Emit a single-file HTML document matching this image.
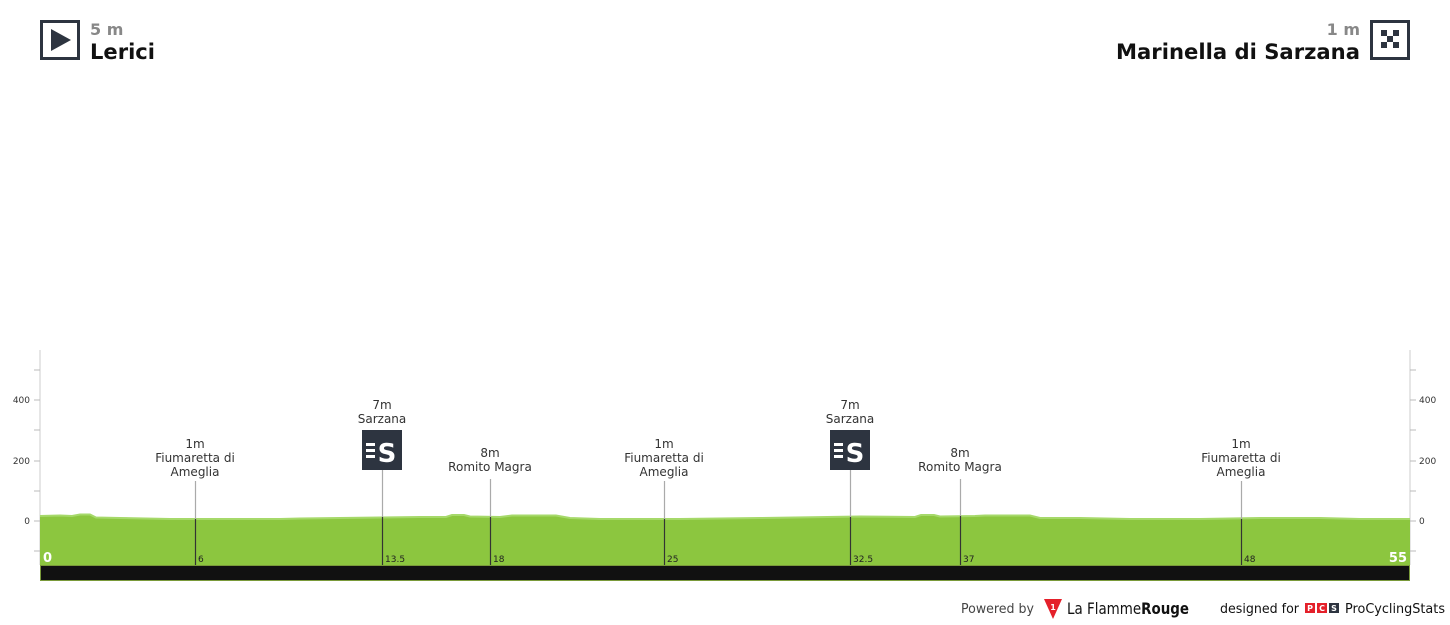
<!DOCTYPE html>
<html><head><meta charset="utf-8"><style>
html,body{margin:0;padding:0;background:#fff;width:1450px;height:625px;overflow:hidden}
svg{display:block}
text{font-family:"DejaVu Sans","Liberation Sans",sans-serif}
</style></head><body>
<svg width="1450" height="625" viewBox="0 0 1450 625" xmlns="http://www.w3.org/2000/svg">
<rect x="41.5" y="21.5" width="37" height="37" fill="#fff" stroke="#2d3440" stroke-width="3"/>
<polygon points="51,29 51,51 71,40" fill="#2d3440"/>
<text x="90" y="35" font-size="16" font-weight="bold" fill="#888">5 m</text>
<text x="90" y="59" font-size="21" font-weight="bold" fill="#111" textLength="65" lengthAdjust="spacingAndGlyphs">Lerici</text>
<text x="1360" y="35" font-size="16" font-weight="bold" fill="#888" text-anchor="end">1 m</text>
<text x="1360" y="59" font-size="21" font-weight="bold" fill="#111" text-anchor="end" textLength="244" lengthAdjust="spacingAndGlyphs">Marinella di Sarzana</text>
<rect x="1371.5" y="21.5" width="37" height="37" fill="#fff" stroke="#2d3440" stroke-width="3"/>
<g fill="#2d3440">
<rect x="1381" y="30" width="6" height="6"/><rect x="1393" y="30" width="6" height="6"/>
<rect x="1387" y="36" width="6" height="6"/>
<rect x="1381" y="42" width="6" height="6"/><rect x="1393" y="42" width="6" height="6"/>
</g>
<line x1="40" y1="350" x2="40" y2="565" stroke="#ccc" stroke-width="1"/>
<line x1="1410" y1="350" x2="1410" y2="565" stroke="#ccc" stroke-width="1"/>
<g stroke="#bbb" stroke-width="1">
<line x1="34" y1="370" x2="40" y2="370"/><line x1="34" y1="400" x2="40" y2="400"/><line x1="34" y1="430" x2="40" y2="430"/><line x1="34" y1="461" x2="40" y2="461"/><line x1="34" y1="491" x2="40" y2="491"/><line x1="34" y1="521" x2="40" y2="521"/><line x1="34" y1="551" x2="40" y2="551"/>
<line x1="1410" y1="370" x2="1416" y2="370"/><line x1="1410" y1="400" x2="1416" y2="400"/><line x1="1410" y1="430" x2="1416" y2="430"/><line x1="1410" y1="461" x2="1416" y2="461"/><line x1="1410" y1="491" x2="1416" y2="491"/><line x1="1410" y1="521" x2="1416" y2="521"/><line x1="1410" y1="551" x2="1416" y2="551"/>
</g>
<g font-size="9" fill="#333">
<text x="30" y="403" text-anchor="end">400</text><text x="30" y="464" text-anchor="end">200</text><text x="30" y="524" text-anchor="end">0</text>
<text x="1419" y="403">400</text><text x="1419" y="464">200</text><text x="1419" y="524">0</text>
</g>
<path d="M40,516 L60,515.5 L72,516 L80,514.5 L90,514.5 L96,517.5 L120,518 L170,519 L280,519 L300,518.5 L380,517.5 L420,517 L446,517 L452,515 L464,515 L470,516.5 L500,517 L512,515.5 L556,515.5 L570,518 L600,519 L680,519 L760,518 L860,516.5 L915,517 L921,515 L934,515 L940,516.5 L975,516 L985,515.5 L1030,515.5 L1040,518 L1080,518 L1130,519 L1200,519 L1260,518 L1320,518 L1360,519 L1410,519 L1410,565 L40,565 Z" fill="#8cc63f"/>
<path d="M40,516 L60,515.5 L72,516 L80,514.5 L90,514.5 L96,517.5 L120,518 L170,519 L280,519 L300,518.5 L380,517.5 L420,517 L446,517 L452,515 L464,515 L470,516.5 L500,517 L512,515.5 L556,515.5 L570,518 L600,519 L680,519 L760,518 L860,516.5 L915,517 L921,515 L934,515 L940,516.5 L975,516 L985,515.5 L1030,515.5 L1040,518 L1080,518 L1130,519 L1200,519 L1260,518 L1320,518 L1360,519 L1410,519" fill="none" stroke="#a6d96a" stroke-width="2"/>
<rect x="40" y="565" width="1370" height="16" fill="#111"/>
<rect x="40.5" y="565.5" width="1369" height="15" fill="none" stroke="#7a9a3a" stroke-width="1"/>
<g stroke="#aaa" stroke-width="1.2">
<line x1="195.5" y1="481" x2="195.5" y2="519"/>
<line x1="382.5" y1="470" x2="382.5" y2="517"/>
<line x1="490.5" y1="479" x2="490.5" y2="517"/>
<line x1="664.5" y1="481" x2="664.5" y2="519"/>
<line x1="850.5" y1="470" x2="850.5" y2="517"/>
<line x1="960.5" y1="479" x2="960.5" y2="516"/>
<line x1="1241.5" y1="481" x2="1241.5" y2="519"/>
</g>
<g stroke="#333" stroke-width="1.2">
<line x1="195.5" y1="519" x2="195.5" y2="565"/>
<line x1="382.5" y1="517" x2="382.5" y2="565"/>
<line x1="490.5" y1="517" x2="490.5" y2="565"/>
<line x1="664.5" y1="519" x2="664.5" y2="565"/>
<line x1="850.5" y1="517" x2="850.5" y2="565"/>
<line x1="960.5" y1="516" x2="960.5" y2="565"/>
<line x1="1241.5" y1="519" x2="1241.5" y2="565"/>
</g>
<g font-size="9" fill="#222">
<text x="198" y="562">6</text><text x="385" y="562">13.5</text><text x="493" y="562">18</text><text x="667" y="562">25</text><text x="853" y="562">32.5</text><text x="963" y="562">37</text><text x="1244" y="562">48</text>
</g>
<text x="43" y="562" font-size="13" font-weight="bold" fill="#fff" font-family="Liberation Serif,serif">0</text>
<text x="1407" y="562" font-size="13" font-weight="bold" fill="#fff" text-anchor="end" font-family="Liberation Serif,serif">55</text>
<g font-size="12" fill="#333" text-anchor="middle">
<text x="195" y="448">1m</text><text x="195" y="462">Fiumaretta di</text><text x="195" y="476">Ameglia</text>
<text x="664" y="448">1m</text><text x="664" y="462">Fiumaretta di</text><text x="664" y="476">Ameglia</text>
<text x="1241" y="448">1m</text><text x="1241" y="462">Fiumaretta di</text><text x="1241" y="476">Ameglia</text>
<text x="490" y="457">8m</text><text x="490" y="471">Romito Magra</text>
<text x="960" y="457">8m</text><text x="960" y="471">Romito Magra</text>
<text x="382" y="409">7m</text><text x="382" y="423">Sarzana</text>
<text x="850" y="409">7m</text><text x="850" y="423">Sarzana</text>
</g>
<g>
<rect x="362" y="430" width="40" height="40" fill="#2d3440"/>
<g fill="#fff"><rect x="366" y="443" width="9" height="3"/><rect x="366" y="449" width="9" height="3"/><rect x="366" y="455" width="9" height="3"/></g>
<text x="387" y="462" font-size="26" font-weight="bold" fill="#fff" text-anchor="middle">S</text>
<rect x="830" y="430" width="40" height="40" fill="#2d3440"/>
<g fill="#fff"><rect x="834" y="443" width="9" height="3"/><rect x="834" y="449" width="9" height="3"/><rect x="834" y="455" width="9" height="3"/></g>
<text x="855" y="462" font-size="26" font-weight="bold" fill="#fff" text-anchor="middle">S</text>
</g>
<text x="961" y="613" font-size="13" fill="#444" textLength="73" lengthAdjust="spacingAndGlyphs">Powered by</text>
<polygon points="1044,599 1062,599 1053,619" fill="#e4202a"/>
<text x="1053" y="610" font-size="8" fill="#fff" text-anchor="middle" font-weight="bold">1</text>
<text x="1067" y="614" font-size="16" fill="#111" textLength="122" lengthAdjust="spacingAndGlyphs">La Flamme<tspan font-weight="bold">Rouge</tspan></text>
<text x="1220" y="613" font-size="13" fill="#111" textLength="79" lengthAdjust="spacingAndGlyphs">designed for</text>
<rect x="1305" y="603" width="10" height="10" fill="#e4202a"/><rect x="1317" y="603" width="10" height="10" fill="#e4202a"/><rect x="1329" y="603" width="10" height="10" fill="#2d3440"/>
<text x="1310" y="611" font-size="8" fill="#fff" text-anchor="middle" font-weight="bold">P</text>
<text x="1322" y="611" font-size="8" fill="#fff" text-anchor="middle" font-weight="bold">C</text>
<text x="1334" y="611" font-size="8" fill="#fff" text-anchor="middle" font-weight="bold">S</text>
<text x="1345" y="613" font-size="13" fill="#111" textLength="100" lengthAdjust="spacingAndGlyphs">ProCyclingStats</text>
</svg>
</body></html>
